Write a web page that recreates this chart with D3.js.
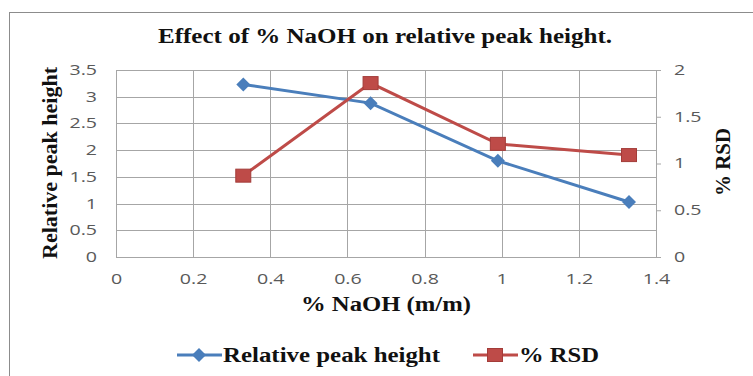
<!DOCTYPE html>
<html>
<head>
<meta charset="utf-8">
<script src="https://cdn.jsdelivr.net/npm/d3@7"></script>
<style>
  html, body { margin: 0; padding: 0; background: #fff; }
  svg { display: block; }
  .tick text { font-family: "Open Sans", "DejaVu Sans", sans-serif; font-size: 14px; fill: #595959; }
  .serif { font-family: "Liberation Serif", "Times New Roman", serif; font-weight: bold; fill: #111; }
</style>
</head>
<body>
<script>
// NaOH concentration (% m/m) and measured responses
const naoh = [0.33, 0.66, 0.99, 1.33];
const relPeakHeight = [3.23, 2.88, 1.80, 1.03];
const rsd = [0.87, 1.86, 1.21, 1.09];

const xTicks = [0, 0.2, 0.4, 0.6, 0.8, 1, 1.2, 1.4];
const yLeftTicks = [0, 0.5, 1, 1.5, 2, 2.5, 3, 3.5];
const yRightTicks = [0, 0.5, 1, 1.5, 2];

const W = 753, H = 376;
const plot = { left: 116, top: 70, right: 656, bottom: 257 };
const blue = "#4a7ebb", red = "#be4b48";

const svg = d3.select("body").append("svg").attr("width", W).attr("height", H);

// widen text glyphs horizontally by factor k
function widen(sel, k) {
  sel.each(function () {
    const w = this.getComputedTextLength();
    d3.select(this).attr("textLength", w * k).attr("lengthAdjust", "spacingAndGlyphs");
  });
}

// outer chart frame
svg.append("rect").attr("x", 9.5).attr("y", 12.5).attr("width", 760).attr("height", 400)
  .attr("fill", "none").attr("stroke", "#8c8c8c").attr("stroke-width", 1);

const x = d3.scaleLinear().domain([0, 1.4]).range([plot.left, plot.right]);
const yL = d3.scaleLinear().domain([0, 3.5]).range([plot.bottom, plot.top]);
const yR = d3.scaleLinear().domain([0, 2]).range([plot.bottom, plot.top]);

// gridlines
const grid = svg.append("g").attr("stroke", "#a6a6a6").attr("stroke-width", 1);
grid.selectAll("line.h").data(yLeftTicks).join("line")
  .attr("x1", plot.left).attr("x2", plot.right)
  .attr("y1", d => Math.round(yL(d)) + 0.5).attr("y2", d => Math.round(yL(d)) + 0.5);
grid.selectAll("line.v").data(xTicks).join("line")
  .attr("y1", plot.top).attr("y2", plot.bottom)
  .attr("x1", d => Math.round(x(d)) + 0.5).attr("x2", d => Math.round(x(d)) + 0.5);

// axes
const gx = svg.append("g").attr("transform", `translate(0,${plot.bottom})`)
  .call(d3.axisBottom(x).tickValues(xTicks).tickFormat(d3.format("")).tickSize(0).tickPadding(17));
gx.select(".domain").remove();

const gyl = svg.append("g").attr("transform", `translate(${plot.left},0)`)
  .call(d3.axisLeft(yL).tickValues(yLeftTicks).tickFormat(d3.format("")).tickSize(0).tickPadding(19));
gyl.select(".domain").remove();

const gyr = svg.append("g").attr("transform", `translate(${plot.right},0)`)
  .call(d3.axisRight(yR).tickValues(yRightTicks).tickFormat(d3.format("")).tickSize(5).tickSizeOuter(0).tickPadding(13));
gyr.select(".domain").attr("stroke", "#a6a6a6");
gyr.selectAll(".tick line").attr("stroke", "#a6a6a6");

widen(svg.selectAll(".tick text"), 1.4);

// series lines
const lineL = d3.line().x((d, i) => x(naoh[i])).y(d => yL(d));
const lineR = d3.line().x((d, i) => x(naoh[i])).y(d => yR(d));

svg.append("path").datum(relPeakHeight).attr("d", lineL)
  .attr("fill", "none").attr("stroke", blue).attr("stroke-width", 3);
svg.append("path").datum(rsd).attr("d", lineR)
  .attr("fill", "none").attr("stroke", red).attr("stroke-width", 3);

// markers
const diamondPath = "M0,-7L7,0L0,7L-7,0Z";
function square(g) {
  return g.append("rect").attr("x", -7.5).attr("y", -6.5).attr("width", 15).attr("height", 13)
    .attr("fill", red).attr("stroke", "#a33c39").attr("stroke-width", 1);
}

svg.selectAll("path.dia").data(relPeakHeight).join("path").attr("class", "dia")
  .attr("d", diamondPath)
  .attr("transform", (d, i) => `translate(${x(naoh[i])},${yL(d)})`)
  .attr("fill", blue);
rsd.forEach((d, i) => {
  square(svg.append("g").attr("transform", `translate(${x(naoh[i])},${yR(d)})`));
});

// titles
const title = svg.append("text").attr("class", "serif").attr("x", 385).attr("y", 43)
  .attr("text-anchor", "middle").attr("font-size", 20).text("Effect of % NaOH  on relative peak height.");
title.attr("textLength", 454).attr("lengthAdjust", "spacingAndGlyphs");

svg.append("text").attr("class", "serif").attr("x", 386).attr("y", 311)
  .attr("text-anchor", "middle").attr("font-size", 20).text("% NaOH (m/m)")
  .attr("textLength", 170).attr("lengthAdjust", "spacingAndGlyphs");

svg.append("text").attr("class", "serif")
  .attr("transform", `translate(57,163) rotate(-90)`)
  .attr("text-anchor", "middle").attr("font-size", 20).text("Relative peak height")
  .attr("textLength", 192).attr("lengthAdjust", "spacingAndGlyphs");

svg.append("text").attr("class", "serif")
  .attr("transform", `translate(730,162) rotate(-90)`)
  .attr("text-anchor", "middle").attr("font-size", 20).text("% RSD")
  .attr("textLength", 68).attr("lengthAdjust", "spacingAndGlyphs");

// legend
const legend = [
  { name: "Relative peak height", color: blue, sym: "dia", x0: 177, len: 217 },
  { name: "% RSD", color: red, sym: "sq", x0: 473, len: 80 }
];
const ly = 355;
legend.forEach(l => {
  svg.append("line").attr("x1", l.x0).attr("x2", l.x0 + 45).attr("y1", ly).attr("y2", ly)
    .attr("stroke", l.color).attr("stroke-width", 3);
  if (l.sym === "dia") {
    svg.append("path").attr("d", diamondPath).attr("fill", l.color)
      .attr("transform", `translate(${l.x0 + 22},${ly})`);
  } else {
    square(svg.append("g").attr("transform", `translate(${l.x0 + 22},${ly})`));
  }
  svg.append("text").attr("class", "serif").attr("x", l.x0 + 46).attr("y", ly + 7)
    .attr("font-size", 20).text(l.name)
    .attr("textLength", l.len).attr("lengthAdjust", "spacingAndGlyphs");
});
</script>
</body>
</html>
